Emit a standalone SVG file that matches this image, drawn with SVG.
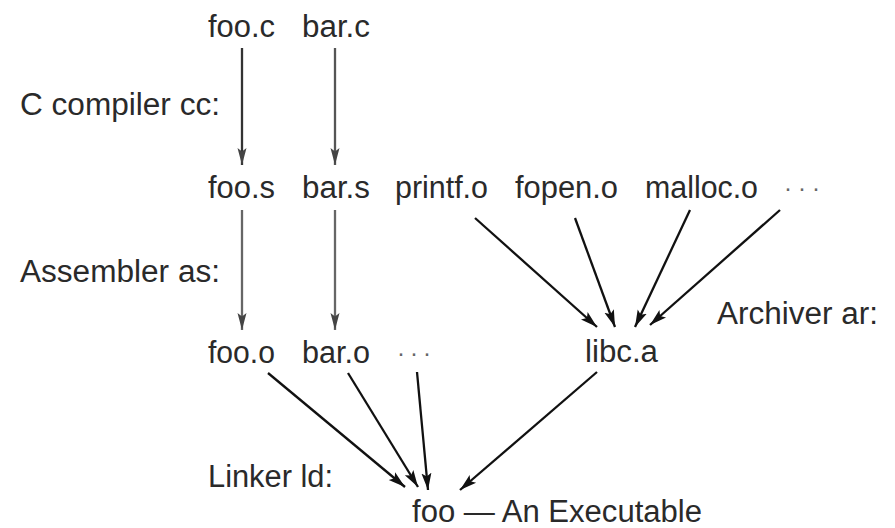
<svg xmlns="http://www.w3.org/2000/svg" width="895" height="528" viewBox="0 0 895 528">
<defs>
<style>
text{font-family:"Liberation Sans",Arial,sans-serif;font-size:31px;fill:#2a2a2a;}
text.dots{font-size:24px;fill:#666;}
.c{stroke:#111;stroke-width:2.3;fill:none;}
.g1{stroke:#333;}
.g2{stroke:#555;}
.g3{stroke:#666;}
</style>
<marker id="ah" markerUnits="userSpaceOnUse" markerWidth="18" markerHeight="14" viewBox="0 0 18 14" refX="17" refY="7" orient="auto">
<path d="M0,2 L17,7 L0,12 L3.5,7 Z" fill="#111"/>
</marker>
<marker id="ahg" markerUnits="userSpaceOnUse" markerWidth="18" markerHeight="14" viewBox="0 0 18 14" refX="17" refY="7" orient="auto">
<path d="M0,2.5 L17,7 L0,11.5 L3.5,7 Z" fill="#444"/>
</marker>
</defs>
<rect width="895" height="528" fill="#fff"/>
<g id="foo_c"><text x="208" y="37" textLength="67" lengthAdjust="spacingAndGlyphs">foo.c</text></g>
<g id="bar_c"><text x="302" y="37" textLength="68" lengthAdjust="spacingAndGlyphs">bar.c</text></g>
<g id="label_cc"><text x="20" y="115" textLength="200" lengthAdjust="spacingAndGlyphs">C compiler cc:</text></g>
<g id="foo_s"><text x="208" y="198" textLength="67" lengthAdjust="spacingAndGlyphs">foo.s</text></g>
<g id="bar_s"><text x="302" y="198" textLength="68" lengthAdjust="spacingAndGlyphs">bar.s</text></g>
<g id="printf_o"><text x="395" y="198" textLength="93" lengthAdjust="spacingAndGlyphs">printf.o</text></g>
<g id="fopen_o"><text x="515" y="198" textLength="103" lengthAdjust="spacingAndGlyphs">fopen.o</text></g>
<g id="malloc_o"><text x="645" y="198" textLength="113" lengthAdjust="spacingAndGlyphs">malloc.o</text></g>
<g id="dots1"><text class="dots" x="784" y="196" textLength="36" lengthAdjust="spacing">· · ·</text></g>
<g id="label_as"><text x="20" y="282" textLength="200" lengthAdjust="spacingAndGlyphs">Assembler as:</text></g>
<g id="label_ar"><text x="717" y="324" textLength="161" lengthAdjust="spacingAndGlyphs">Archiver ar:</text></g>
<g id="foo_o"><text x="208" y="363" textLength="67" lengthAdjust="spacingAndGlyphs">foo.o</text></g>
<g id="bar_o"><text x="302" y="363" textLength="68" lengthAdjust="spacingAndGlyphs">bar.o</text></g>
<g id="dots2"><text class="dots" x="397" y="361" textLength="34" lengthAdjust="spacing">· · ·</text></g>
<g id="libc_a"><text x="585" y="362" textLength="73" lengthAdjust="spacingAndGlyphs">libc.a</text></g>
<g id="label_ld"><text x="208" y="487" textLength="125" lengthAdjust="spacingAndGlyphs">Linker ld:</text></g>
<g id="foo"><text x="412" y="522" textLength="290" lengthAdjust="spacingAndGlyphs">foo — An Executable</text></g>
<g id="connectors">
<line class="c g1" x1="242" y1="48" x2="242" y2="165" marker-end="url(#ahg)"/>
<line class="c g2" x1="335" y1="48" x2="335" y2="165" marker-end="url(#ahg)"/>
<line class="c g3" x1="242" y1="210" x2="242" y2="330" marker-end="url(#ahg)"/>
<line class="c g3" x1="335" y1="210" x2="335" y2="330" marker-end="url(#ahg)"/>
<line class="c" x1="475" y1="218" x2="597" y2="327" marker-end="url(#ah)"/>
<line class="c" x1="575" y1="218" x2="615" y2="327" marker-end="url(#ah)"/>
<line class="c" x1="690" y1="210" x2="635" y2="327" marker-end="url(#ah)"/>
<line class="c" x1="780" y1="210" x2="650" y2="325" marker-end="url(#ah)"/>
<line class="c" x1="268" y1="373" x2="405" y2="487" marker-end="url(#ah)"/>
<line class="c" x1="348" y1="373" x2="418" y2="487" marker-end="url(#ah)"/>
<line class="c" x1="417" y1="372" x2="428" y2="490" marker-end="url(#ah)"/>
<line class="c" x1="597" y1="372" x2="460" y2="490" marker-end="url(#ah)"/>
</g>
</svg>
